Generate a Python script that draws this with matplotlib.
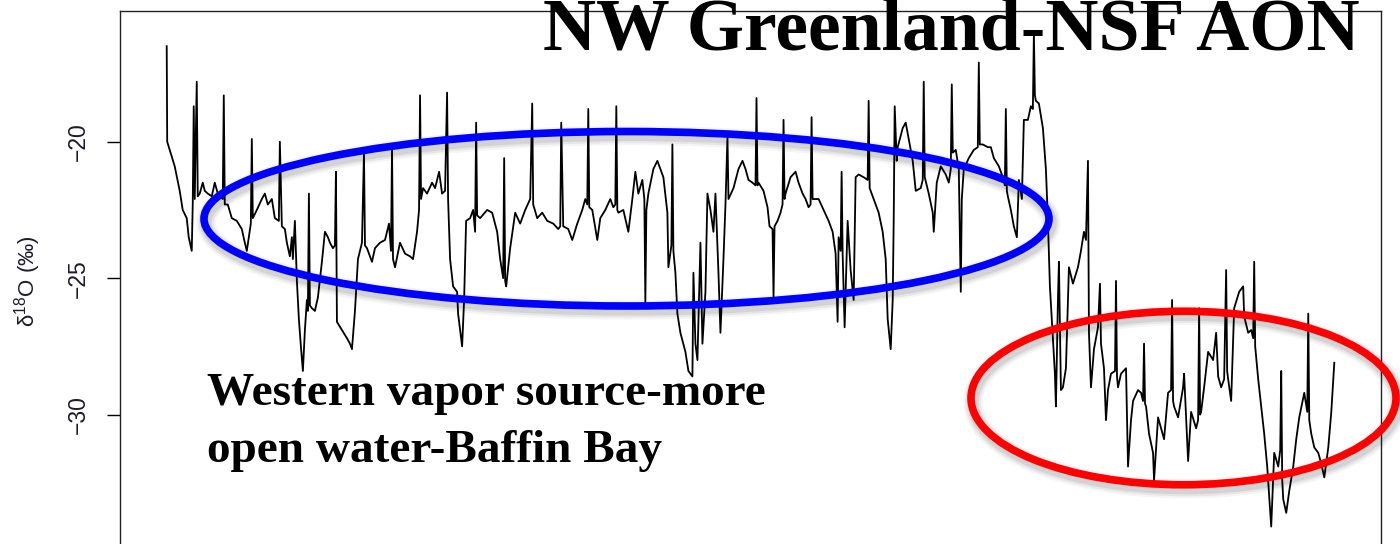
import matplotlib
matplotlib.use("Agg")
import matplotlib.pyplot as plt
from matplotlib.patches import Ellipse

# core record: sample position along the core and d18O (per mil)
depth = [
    0, 0.5, 3, 8, 13, 16, 20, 22, 25, 26, 27, 28, 30, 31, 33, 36, 38, 41, 45, 48,
    51, 56, 57, 58, 61, 65, 70, 75, 78, 80, 82, 84, 85, 86, 90, 95, 98, 101, 105, 108,
    112, 113, 115, 118, 120, 123, 125, 126, 128, 130, 132, 134, 136, 138, 140, 141, 142, 143, 145, 148,
    151, 155, 158, 161, 163, 166, 168, 169, 170, 175, 180, 183, 185, 188, 191, 195, 197, 198, 200, 205,
    208, 213, 218, 222, 224, 225, 226, 228, 233, 238, 243, 246, 250, 252, 253, 254, 256, 260, 265, 268,
    272, 275, 278, 280, 281, 283, 286, 290, 291, 295, 297, 299, 303, 306, 308, 309, 310, 313, 320, 325,
    330, 333, 336, 337, 338, 339, 343, 348, 353, 358, 363, 365, 366, 370, 375, 380, 386, 391, 393, 394,
    396, 401, 405, 410, 415, 418, 420, 421, 422, 425, 430, 433, 438, 443, 446, 448, 449, 450, 451, 456,
    461, 465, 468, 471, 475, 477, 478, 479, 481, 486, 490, 493, 496, 500, 501, 504, 505, 506, 508, 510,
    513, 518, 521, 525, 526, 528, 530, 533, 535, 538, 540, 543, 546, 548, 551, 553, 556, 558, 560, 561,
    566, 571, 575, 578, 581, 585, 588, 589, 590, 591, 596, 600, 602, 605, 606, 607, 610, 613, 615, 616,
    617, 618, 623, 628, 631, 635, 638, 641, 643, 644, 645, 646, 651, 656, 661, 665, 668, 670, 671, 673,
    674, 675, 677, 680, 683, 686, 688, 691, 696, 700, 701, 702, 706, 711, 715, 718, 720, 723, 725, 726,
    727, 729, 730, 735, 738, 741, 745, 748, 753, 755, 756, 757, 761, 765, 766, 769, 773, 778, 781, 783,
    784, 785, 788, 791, 793, 794, 796, 801, 806, 810, 811, 812, 815, 820, 823, 826, 831, 836, 837, 838,
    839, 840, 843, 846, 849, 851, 854, 856, 860, 863, 865, 866, 867, 868, 871, 875, 878, 880, 882, 885,
    887, 888, 890, 891, 893, 895, 898, 901, 905, 910, 913, 916, 918, 920, 921, 923, 926, 930, 932, 933,
    936, 938, 940, 943, 947, 948, 949, 950, 953, 958, 960, 963, 965, 970, 973, 975, 976, 977, 978, 981,
    985, 986, 990, 993, 996, 1000, 1003, 1004, 1005, 1006, 1010, 1015, 1016, 1020, 1023, 1028, 1030, 1031, 1032, 1033,
    1036, 1040, 1045, 1048, 1050, 1053, 1056, 1058, 1059, 1060, 1063, 1066, 1071, 1075, 1076, 1080, 1083, 1085, 1086, 1087,
    1090, 1093, 1096, 1099, 1103, 1106, 1110, 1112, 1113, 1114, 1115, 1118, 1121, 1125, 1128, 1131, 1136, 1139, 1140, 1141,
    1143, 1146, 1150, 1153, 1156, 1160, 1163, 1166,
]
d18o = [
    -16.5, -20.0, -20.3, -20.9, -21.8, -22.5, -22.8, -23.5, -24.0, -22.3, -18.7, -22.1, -17.8, -22.0, -21.9, -21.5, -21.8, -21.9, -22.0, -21.5,
    -21.9, -22.1, -18.3, -22.3, -22.3, -22.8, -22.9, -23.2, -23.7, -24.0, -23.5, -23.0, -19.9, -22.8, -22.5, -22.1, -21.9, -22.3, -22.1, -22.8,
    -22.9, -20.0, -23.1, -23.2, -23.7, -24.2, -23.5, -24.3, -22.9, -25.1, -26.5, -27.5, -28.4, -26.9, -25.8, -26.2, -21.9, -26.0, -26.1, -26.2,
    -25.7, -24.4, -23.3, -23.5, -23.7, -23.9, -23.8, -21.1, -26.6, -26.9, -27.2, -27.4, -27.6, -26.2, -24.3, -23.7, -20.4, -23.8, -23.9, -24.4,
    -23.9, -23.7, -23.6, -23.0, -24.0, -20.2, -24.3, -24.6, -23.7, -24.1, -24.2, -24.3, -23.3, -22.5, -18.3, -22.1, -21.7, -21.9, -21.5, -21.7,
    -21.1, -21.9, -21.8, -18.2, -22.1, -24.3, -25.3, -25.5, -26.3, -27.5, -25.8, -22.9, -22.8, -22.5, -23.3, -19.3, -22.7, -22.8, -22.5, -22.6,
    -23.3, -24.3, -25.0, -20.6, -25.1, -25.3, -23.9, -22.6, -23.0, -22.5, -22.1, -18.6, -22.3, -22.8, -22.6, -22.9, -23.0, -23.2, -23.1, -19.3,
    -23.1, -23.2, -23.6, -23.0, -22.5, -22.1, -22.3, -18.8, -22.4, -22.5, -23.6, -22.8, -22.5, -22.1, -22.4, -22.3, -18.7, -22.5, -22.6, -22.5,
    -23.3, -22.1, -21.1, -21.9, -21.4, -22.1, -25.9, -22.5, -21.9, -21.0, -20.7, -21.0, -21.3, -22.6, -24.6, -23.8, -20.1, -24.0, -24.8, -26.3,
    -27.0, -27.7, -28.4, -28.6, -24.8, -27.4, -28.0, -23.7, -27.4, -25.5, -21.9, -22.5, -23.3, -21.9, -24.8, -27.0, -24.3, -22.3, -19.8, -22.1,
    -21.7, -21.0, -20.7, -21.0, -21.4, -21.5, -21.6, -18.4, -21.6, -21.5, -21.8, -22.4, -23.1, -23.2, -25.7, -23.1, -22.9, -22.6, -22.3, -19.2,
    -22.1, -21.9, -21.3, -21.1, -21.5, -21.9, -22.1, -22.4, -22.3, -19.1, -22.1, -22.1, -22.1, -22.5, -22.9, -23.3, -24.1, -26.6, -23.5, -24.0,
    -21.1, -24.1, -26.8, -22.9, -24.7, -25.8, -21.3, -21.2, -21.3, -21.4, -18.5, -21.7, -22.1, -22.6, -23.3, -24.3, -26.5, -27.6, -25.8, -22.9,
    -18.7, -20.7, -20.2, -19.5, -19.3, -19.9, -20.7, -21.8, -21.7, -21.4, -17.8, -21.3, -21.9, -22.6, -23.3, -21.5, -20.9, -21.2, -21.5, -21.0,
    -17.9, -20.4, -20.3, -21.0, -25.5, -22.1, -21.0, -20.6, -20.3, -20.2, -17.1, -20.1, -20.1, -20.2, -20.2, -20.6, -20.9, -21.4, -21.6, -18.8,
    -21.8, -22.0, -22.5, -23.1, -23.5, -21.4, -22.1, -19.2, -19.2, -18.7, -18.8, -16.0, -18.3, -18.5, -18.6, -19.5, -21.0, -22.9, -25.3, -27.2,
    -28.5, -29.7, -25.8, -24.4, -29.1, -29.0, -28.3, -24.6, -25.2, -24.6, -24.0, -23.3, -23.6, -20.7, -27.0, -29.0, -27.6, -26.8, -25.2, -27.4,
    -28.3, -30.2, -29.1, -28.5, -28.4, -25.1, -28.6, -29.0, -28.5, -28.3, -31.9, -30.2, -29.5, -29.1, -29.2, -29.5, -27.4, -29.6, -29.7, -30.7,
    -31.4, -32.4, -30.1, -30.5, -30.9, -29.2, -29.1, -25.8, -29.5, -29.7, -30.1, -29.0, -28.5, -31.7, -29.9, -30.5, -30.2, -26.1, -30.0, -29.9,
    -29.0, -27.7, -28.0, -27.0, -28.6, -29.0, -28.7, -24.7, -28.4, -28.7, -29.5, -26.1, -25.5, -25.3, -26.4, -27.0, -26.9, -27.2, -24.4, -27.5,
    -28.7, -29.7, -30.7, -31.9, -34.1, -31.4, -31.9, -31.3, -28.4, -32.4, -33.1, -33.6, -32.8, -31.9, -30.9, -30.1, -29.2, -29.9, -26.3, -30.2,
    -30.7, -31.2, -31.4, -31.8, -32.3, -31.2, -29.9, -28.1,
]

yticks = [-20, -25, -30]
title = "NW Greenland-NSF AON"
note_lines = ["Western vapor source-more", "open water-Baffin Bay"]

W, H = 1400, 544
SANS = ["Liberation Sans", "DejaVu Sans"]
SERIF = ["Liberation Serif", "DejaVu Serif"]

plt.rcParams["mathtext.fontset"] = "custom"
plt.rcParams["mathtext.rm"] = "Liberation Sans"

fig = plt.figure(figsize=(W / 100, H / 100), dpi=100)
ax = fig.add_axes([120 / W, 0.0, 1261 / W, 1 - 11 / H])

ax.plot(depth, d18o, color="black", lw=1.3)
ax.margins(x=0.04)
ax.set_ylim(-34.74, -15.21)

ax.set_xticks([])
ax.set_yticks(yticks)
ax.tick_params(axis="y", direction="out", length=9.5, width=1.0, pad=12,
               labelsize=16.5, labelcolor="#1c1c2a")
for lab in ax.get_yticklabels():
    lab.set_rotation(90)
    lab.set_va("center")
    lab.set_ha("right")
    lab.set_family(SANS)

ax.spines["bottom"].set_visible(False)
for side in ("left", "top", "right"):
    ax.spines[side].set_linewidth(1.0)
    ax.spines[side].set_color("#222222")

fig.text(28 / W, 1 - 281 / H, "δ$^{18}$O (‰)", rotation=90, ha="center", va="center",
         fontsize=16, color="#1c1c2a", family=SANS)


# ─────────────────────────────────────────
# highlight rings with a soft drop shadow
# ─────────────────────────────────────────

def ring(cx, cy, w, h, color):
    for lw, a in [(14, 0.04), (11, 0.06), (8, 0.08)]:
        fig.add_artist(Ellipse(((cx + 2) / W, 1 - (cy + 4) / H), w / W, h / H,
                               transform=fig.transFigure, fill=False,
                               lw=lw, ec="black", alpha=a))
    fig.add_artist(Ellipse((cx / W, 1 - cy / H), w / W, h / H,
                           transform=fig.transFigure, fill=False, lw=5.5, ec=color))


ring(626.5, 218.75, 845, 174.5, "#0000ff")
ring(1183.5, 398, 425, 173.5, "#ff0000")

fig.text(543 / W, 1 - 50 / H, title, fontsize=53, fontweight="bold",
         family=SERIF, ha="left", va="baseline")
fig.text(207 / W, 1 - 405 / H, note_lines[0], fontsize=34, fontweight="bold",
         family=SERIF, ha="left", va="baseline")
fig.text(207 / W, 1 - 462 / H, note_lines[1], fontsize=34, fontweight="bold",
         family=SERIF, ha="left", va="baseline")

fig.savefig("out.png", dpi=100)
plt.close(fig)
